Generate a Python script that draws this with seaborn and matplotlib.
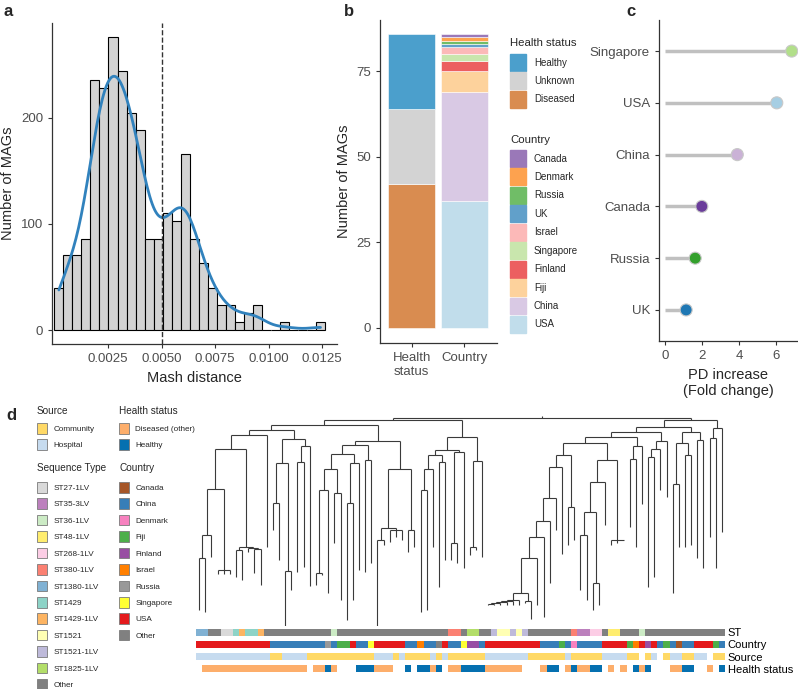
import numpy as np
import pandas as pd
import matplotlib
matplotlib.use("Agg")
import matplotlib.pyplot as plt
from matplotlib.patches import Patch
from matplotlib.collections import LineCollection
import seaborn as sns

sns.set_style("ticks")
plt.rcParams["font.family"] = ["Liberation Sans", "DejaVu Sans"]

# ---- a: Mash distance histogram (30 bins)
mash_bin_start = -0.00002
mash_bin_width = 0.000422
mash_counts = [40, 71, 71, 86, 236, 228, 276, 244, 205, 189, 86, 86, 110, 103, 166,
               86, 63, 40, 24, 24, 8, 16, 24, 0, 0, 8, 0, 0, 0, 8]

# ---- b: stacked counts
health_levels = ["Diseased", "Unknown", "Healthy"]
health_mags = [42, 22, 22]
country_levels = ["USA", "China", "Fiji", "Finland", "Singapore", "Israel", "UK",
                  "Russia", "Denmark", "Canada"]
country_mags = [37, 32, 6, 3, 2, 2, 1, 1, 1, 1]

# ---- c: PD increase
pd_countries = ["Singapore", "USA", "China", "Canada", "Russia", "UK"]
pd_fold = [6.85, 6.04, 3.9, 1.98, 1.62, 1.13]

# ---- d: annotation tracks (run length, left to right over 86 leaves)
st_runs = [("ST1380-1LV", 2), ("Other", 2), ("ST27-1LV", 2), ("ST1429", 1), ("ST1429-1LV", 1),
           ("ST1429", 2), ("ST1429-1LV", 1), ("Other", 11), ("ST36-1LV", 1), ("Other", 18),
           ("ST380-1LV", 2), ("Other", 1), ("ST1825-1LV", 2), ("Other", 2), ("ST1521-1LV", 1),
           ("ST1521", 2), ("ST1521-1LV", 1), ("ST1521", 1), ("ST1521-1LV", 1), ("Other", 7),
           ("ST380-1LV", 1), ("ST35-3LV", 2), ("ST268-1LV", 2), ("Other", 1), ("ST48-1LV", 2),
           ("Other", 3), ("ST36-1LV", 1), ("Other", 13)]
country_runs = [("USA", 12), ("China", 9), ("Russia", 1), ("China", 1), ("Fiji", 2), ("USA", 1),
                ("China", 2), ("Singapore", 1), ("USA", 5), ("China", 2), ("Israel", 1),
                ("China", 2), ("Other", 1), ("USA", 1), ("China", 2), ("Singapore", 1),
                ("Finland", 2), ("China", 1), ("USA", 9), ("China", 3), ("Fiji", 1), ("China", 1),
                ("Denmark", 1), ("China", 4), ("USA", 4), ("Fiji", 1), ("Israel", 1), ("USA", 1),
                ("Finland", 1), ("USA", 1), ("China", 1), ("Fiji", 1), ("China", 1), ("Canada", 1),
                ("China", 2), ("USA", 3), ("Fiji", 1), ("China", 1)]
source_runs = [("Hospital", 12), ("Community", 2), ("Hospital", 4), ("Community", 11),
               ("Hospital", 3), ("Community", 1), ("Hospital", 1), ("Community", 4),
               ("Hospital", 1), ("Community", 1), ("Hospital", 1), ("Community", 6),
               ("Hospital", 7), ("Community", 6), ("Hospital", 1), ("Community", 5),
               ("Hospital", 4), ("Community", 2), (None, 1), ("Community", 1), ("Hospital", 1),
               (None, 1), ("Community", 1), ("Hospital", 2), ("Community", 2), ("Hospital", 2),
               (None, 1), ("Community", 2)]
health_runs = [(None, 1), ("Diseased (other)", 17), (None, 1), ("Diseased (other)", 2),
               ("Healthy", 1), ("Diseased (other)", 1), (None, 3), ("Healthy", 3),
               ("Diseased (other)", 3), (None, 2), ("Healthy", 1), (None, 1), ("Healthy", 2),
               ("Diseased (other)", 1), ("Healthy", 1), (None, 1), ("Diseased (other)", 2),
               ("Healthy", 4), ("Diseased (other)", 6), (None, 3), ("Diseased (other)", 1),
               ("Healthy", 2), (None, 1), ("Diseased (other)", 1), ("Healthy", 1),
               ("Diseased (other)", 2), ("Healthy", 2), (None, 1), ("Diseased (other)", 1),
               (None, 1), ("Diseased (other)", 1), (None, 1), ("Healthy", 1),
               ("Diseased (other)", 1), ("Healthy", 1), (None, 3), ("Diseased (other)", 2),
               ("Healthy", 2), (None, 2), ("Diseased (other)", 1), (None, 1), ("Healthy", 1)]

# tree: [node depth, children...]; a bare number is a tip depth (distance from root)
tree = [6,
        [8,
         [13,
          [18,
           [23,
            [37,
             [77, [123, [146, 198, 200], 145], [158, 162, 162, 162]],
             [135, [138, 165, 168], [136, 140, [137, 161, 173]]]],
            135],
           [27,
            [51, [91, 118, 148], [159, 215, 178]],
            [34, [50, 160, 155], 174]]],
          [29,
           [33,
            [42,
             [57, [78, [161, 173, 163], 181], [81, 131, 188]],
             [51, [91, 208, 188], 158]],
            [48, 160, 151]],
           [57,
            [116, [128, 215, 133], [118, 130, 125, 128]],
            [118, 140, 135]]]],
         [25,
          [38,
           [43, [57, [78, 200, 198], 135], [50, 175, 148]],
           [40, [131, 148, 151], 156]],
          [49, [135, 143, 138], 145]]],
        [8,
         [15,
          [20,
           [25,
            [31,
             [43,
              [55,
               [86,
                [109,
                 [125,
                  [146,
                   [181,
                    [188, [189, [190, [190.5, [191.5, 193, 193], 193], 193], 193], 193],
                    [189, 191, 207]],
                   193],
                  205],
                 171],
                118],
               142],
              [95, 133, 128]],
             [48,
              [70, [100, [123, 178, 188], [171, 198, 193]], 113],
              [128, 133, 131, 128]]],
            [34, [47, 115, 135], 92]],
           [29, [37, [45, 175, 165], 78], 85]],
          [20,
           [31, [72, 181, 135], [43, 135, 133]],
           [28, 146, 156]]],
         [16, [26, 125, 156], 120]]]

# ---- styles
health_b_colors = {"Healthy": "#4b9fcc", "Unknown": "#d3d3d3", "Diseased": "#d98c50"}
country_b_colors = {"Canada": "#9a78b8", "Denmark": "#fda24f", "Russia": "#70bd67",
                    "UK": "#61a0ca", "Israel": "#fcb9b8", "Singapore": "#c9e6ad",
                    "Finland": "#ec5f60", "Fiji": "#fdd29c", "China": "#d9c9e4",
                    "USA": "#c1ddeb"}
pd_colors = {"Singapore": "#b2df8a", "USA": "#a6cee3", "China": "#cab2d6",
             "Canada": "#6a3d9a", "Russia": "#33a02c", "UK": "#1f78b4"}
source_colors = {"Community": "#ffd966", "Hospital": "#c6dbef"}
health_d_colors = {"Diseased (other)": "#fdae6b", "Healthy": "#0570b0"}
st_colors = {"ST27-1LV": "#d9d9d9", "ST35-3LV": "#bc80bd", "ST36-1LV": "#ccebc5",
             "ST48-1LV": "#ffed6f", "ST268-1LV": "#fccde5", "ST380-1LV": "#fb8072",
             "ST1380-1LV": "#80b1d3", "ST1429": "#8dd3c7", "ST1429-1LV": "#fdb462",
             "ST1521": "#ffffb3", "ST1521-1LV": "#bebada", "ST1825-1LV": "#b3de69",
             "Other": "#808080"}
country_d_colors = {"Canada": "#a65628", "China": "#377eb8", "Denmark": "#f781bf",
                    "Fiji": "#4daf4a", "Finland": "#984ea3", "Israel": "#ff7f00",
                    "Russia": "#999999", "Singapore": "#ffff33", "USA": "#e41a1c",
                    "Other": "#808080"}

W, H = 798, 689
fig = plt.figure(figsize=(W / 100, H / 100), dpi=100)


def px_axes(x0, y0, x1, y1):
    return fig.add_axes([x0 / W, 1 - y1 / H, (x1 - x0) / W, (y1 - y0) / H])


def style_axes(ax):
    sns.despine(ax=ax)
    for s in ("left", "bottom"):
        ax.spines[s].set_color("#333333")
        ax.spines[s].set_linewidth(0.9)
    ax.tick_params(length=3, width=0.8, color="#333333", labelcolor="#4d4d4d", labelsize=9.5)


# ================= a
ax_a = px_axes(52, 23, 337, 344)
edges = mash_bin_start + mash_bin_width * np.arange(len(mash_counts) + 1)
centers = (edges[:-1] + edges[1:]) / 2
mash_df = pd.DataFrame({"dist": centers, "n": mash_counts})
sns.histplot(data=mash_df, x="dist", weights="n", bins=list(edges), kde=True, color="#d3d3d3",
             alpha=1, edgecolor="black", linewidth=0.8,
             kde_kws={"bw_adjust": 0.45, "cut": 0}, ax=ax_a)
ax_a.lines[-1].set_color("#3182bd")
ax_a.lines[-1].set_linewidth(2)
ax_a.axvline(0.005, ls="--", color="#333333", lw=1)
ax_a.set_xlim(-0.00013, 0.0132)
ax_a.set_ylim(-13.2, 289.6)
ax_a.set_xticks([0.0025, 0.005, 0.0075, 0.01, 0.0125])
ax_a.set_xticklabels(["0.0025", "0.0050", "0.0075", "0.0100", "0.0125"])
ax_a.set_yticks([0, 100, 200])
ax_a.set_xlabel("Mash distance", fontsize=10.5)
ax_a.set_ylabel("Number of MAGs", fontsize=10.5)
style_axes(ax_a)

# ================= b
ax_b = px_axes(380, 20, 497, 343)
bottom = 0
for lvl, n in zip(health_levels, health_mags):
    ax_b.bar(0, n, bottom=bottom, width=0.9, color=health_b_colors[lvl], edgecolor="white", lw=0.4)
    bottom += n
bottom = 0
for lvl, n in zip(country_levels, country_mags):
    ax_b.bar(1, n, bottom=bottom, width=0.9, color=country_b_colors[lvl], edgecolor="white", lw=0.4)
    bottom += n
ax_b.set_xlim(-0.6, 1.62)
ax_b.set_ylim(-4.4, 90)
ax_b.set_xticks([0, 1])
ax_b.set_xticklabels(["Health\nstatus", "Country"])
ax_b.set_yticks([0, 25, 50, 75])
ax_b.set_ylabel("Number of MAGs", fontsize=10.5)
style_axes(ax_b)


def legend_block(labels, handles, title, x, y_title, y_keys, fs, tfs, **kw):
    fig.text(x / W, 1 - y_title / H, title, fontsize=tfs, va="center", ha="left")
    fig.legend(handles=handles, labels=labels, loc="upper left", frameon=False,
               borderpad=0, borderaxespad=0, fontsize=fs,
               bbox_to_anchor=(x / W, 1 - y_keys / H), **kw)


bkw = dict(handlelength=1.65, handleheight=2.31, labelspacing=0.15, handletextpad=0.8)
legend_block(health_levels[::-1], [Patch(color=health_b_colors[k]) for k in health_levels[::-1]],
             "Health status", 510, 43, 54, 7, 8.2, **bkw)
legend_block(country_levels[::-1], [Patch(color=country_b_colors[k]) for k in country_levels[::-1]],
             "Country", 510, 140, 150, 7, 8.2, **bkw)

# ================= c
ax_c = px_axes(659, 20, 798, 341)
ypos = np.arange(len(pd_countries))
ax_c.hlines(ypos, 0, pd_fold, color="#c0c0c0", lw=2.5, zorder=1)
sns.scatterplot(x=pd_fold, y=ypos, hue=pd_countries, palette=pd_colors, legend=False,
                s=75, edgecolor="#c8c8c8", linewidth=0.8, zorder=3, clip_on=False, ax=ax_c)
ax_c.set_yticks(ypos)
ax_c.set_yticklabels(pd_countries)
ax_c.set_ylim(5.6, -0.6)
ax_c.set_xlim(-0.34, 7.19)
ax_c.set_xticks([0, 2, 4, 6])
ax_c.set_xlabel("PD increase\n(Fold change)", fontsize=10.5)
style_axes(ax_c)

# ================= d: tree
segs = []
counter = [0]


def layout(node):
    if not isinstance(node, list):
        x = counter[0] + 0.5
        counter[0] += 1
        return x, node
    depth = node[0]
    kids = [layout(c) for c in node[1:]]
    xs = [k[0] for k in kids]
    for kx, kd in kids:
        segs.append([(kx, depth), (kx, kd)])
    segs.append([(min(xs), depth), (max(xs), depth)])
    return (min(xs) + max(xs)) / 2, depth


root_x, root_d = layout(tree)
segs.append([(root_x, root_d - 2), (root_x, root_d)])
n_leaves = counter[0]

ax_t = px_axes(196, 410, 725, 628)
ax_t.add_collection(LineCollection(segs, colors="#3a3a3a", linewidths=0.8))
ax_t.set_xlim(0, n_leaves)
ax_t.set_ylim(216, -2)
ax_t.axis("off")


# ================= d: tracks
def expand(runs):
    out = []
    for lab, n in runs:
        out += [lab] * n
    return out


tracks = [("ST", expand(st_runs), st_colors),
          ("Country", expand(country_runs), country_d_colors),
          ("Source", expand(source_runs), source_colors),
          ("Health status", expand(health_runs), health_d_colors)]

ax_k = px_axes(196, 626, 725, 675)
xs = np.arange(n_leaves) + 0.5
for r, (name, labs, cmap) in enumerate(tracks):
    cols = [cmap[l] if l is not None else (0, 0, 0, 0) for l in labs]
    ax_k.bar(xs, 0.58, bottom=r - 0.29, width=1.0, color=cols, lw=0)
ax_k.set_xlim(0, n_leaves)
ax_k.set_ylim(len(tracks) - 0.5, -0.5)
ax_k.set_yticks(range(len(tracks)))
ax_k.set_yticklabels([t[0] for t in tracks], fontsize=8)
ax_k.yaxis.tick_right()
ax_k.tick_params(axis="y", length=0, pad=2, labelcolor="black")
ax_k.set_xticks([])
for s in ax_k.spines.values():
    s.set_visible(False)


# ================= d: legends
def patches(cmap):
    return [Patch(facecolor=c, edgecolor="#7a7a7a", lw=0.6) for c in cmap.values()]


dkw = dict(handlelength=1.25, handleheight=1.6, labelspacing=0.72, handletextpad=0.73)
legend_block(list(source_colors), patches(source_colors), "Source", 37, 411, 423, 5.9, 7.2, **dkw)
legend_block(list(health_d_colors), patches(health_d_colors), "Health status", 119, 411, 423,
             5.9, 7.2, **dkw)
legend_block(list(st_colors), patches(st_colors), "Sequence Type", 37, 468, 482, 5.9, 7.2, **dkw)
legend_block(list(country_d_colors), patches(country_d_colors), "Country", 119, 468, 482,
             5.9, 7.2, **dkw)

# panel letters
for lab, x, y in [("a", 4, 12), ("b", 344, 12), ("c", 626, 12), ("d", 6, 416)]:
    fig.text(x / W, 1 - y / H, lab, fontsize=12, fontweight="bold", va="center")

fig.savefig("out.png", dpi=100)
